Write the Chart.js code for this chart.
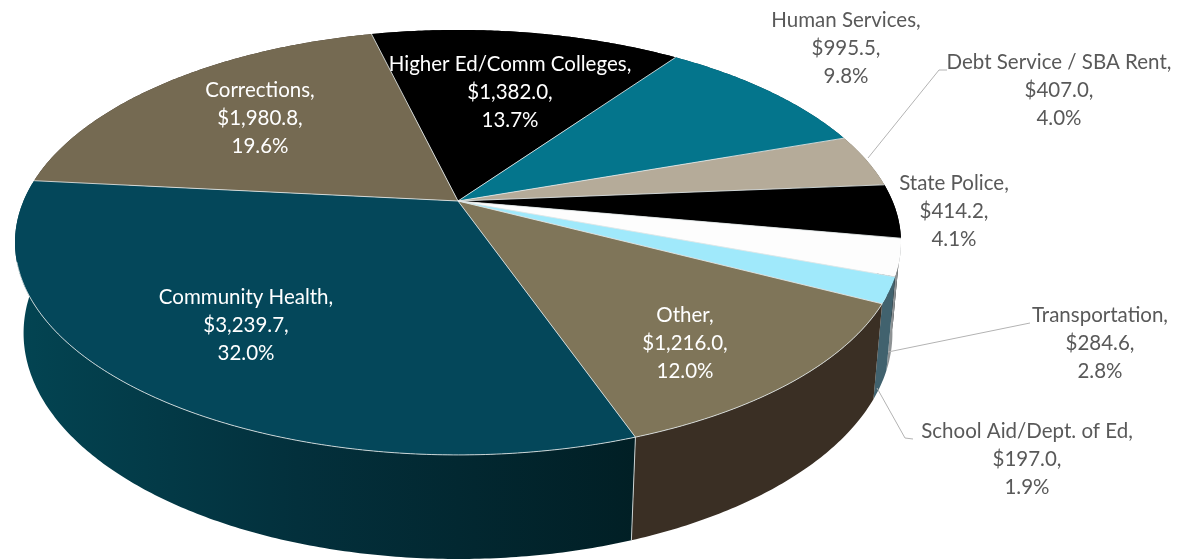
<!DOCTYPE html>
<html>
<head>
<meta charset="utf-8">
<title>Budget by department</title>
<style>
  html, body { margin: 0; padding: 0; background: #fff; }
  canvas { display: block; }
</style>
<script src="https://cdn.jsdelivr.net/npm/chart.js@4/dist/chart.umd.min.js"></script>
</head>
<body>
<canvas id="myChart" width="1178" height="559"></canvas>
<script>
// data, clockwise from the top
var categories = ["Higher Ed/Comm Colleges", "Human Services", "Debt Service / SBA Rent", "State Police",
                  "Transportation", "School Aid/Dept. of Ed", "Other", "Community Health", "Corrections"];
var amounts = [1382.0, 995.5, 407.0, 414.2, 284.6, 197.0, 1216.0, 3239.7, 1980.8];
var percents = [13.7, 9.8, 4.0, 4.1, 2.8, 1.9, 12.0, 32.0, 19.6];

var topColors = ["#000000", "#04758c", "#b5ab99", "#000000", "#fdfdfd", "#a0e9fb", "#7f7559", "#04475a", "#756a52"];
var wallColors = ["#000000", "#033f4c", "#6b6558", "#000000", "#8d9294", "#41626e", "#3a2f24", null, "#3a2f24"];

// where each label sits: centre x, y of first line, text colour
var labelSpots = [
  [510, 64, "#fff"], [846, 20, "#595959"], [1059, 62, "#595959"], [954, 183, "#595959"],
  [1100, 315, "#595959"], [1027, 431, "#595959"], [685, 315, "#fff"], [246, 297, "#fff"], [260, 90, "#fff"]
];
var leaders = [
  [[947, 70], [939, 70], [868, 158]],
  [[1030, 323], [888, 352]],
  [[913, 439], [905, 438], [877, 388]]
];

// perspective of the tilted disc. Pie centre lands at cx,cy
var cx = 458, cy = 201, A = 434.5, B = 204.4, P = 0.195, DROP = 90.6, Q = 0.019;
var RIM_TOP = 262; // rim line only shows below this y

function project(angle, lower) {
  var u = Math.cos(angle), v = Math.sin(angle);
  var w = 1 - P * v + (lower ? Q : 0);
  return [cx + A * u / w, cy + (B * v + (lower ? DROP : 0)) / w];
}

function arcPoints(arc, lower) {
  var pts = [];
  var n = Math.max(2, Math.ceil((arc.endAngle - arc.startAngle) / 0.01));
  for (var i = 0; i <= n; i++) {
    pts.push(project(arc.startAngle + (arc.endAngle - arc.startAngle) * i / n, lower));
  }
  return pts;
}

function tracePoly(ctx, pts) {
  pts.forEach(function (p, i) {
    if (i === 0) ctx.moveTo(p[0], p[1]); else ctx.lineTo(p[0], p[1]);
  });
}

var pie3d = {
  id: "pie3d",
  beforeDatasetsDraw: function (chart) {
    var ctx = chart.ctx;
    var arcs = chart.getDatasetMeta(0).data;
    ctx.save();

    // walls first, the top face covers whatever is behind it
    arcs.forEach(function (arc, i) {
      var fill = wallColors[i];
      if (!fill) {
        fill = ctx.createLinearGradient(20, 0, 635, 0);
        fill.addColorStop(0, "#034452");
        fill.addColorStop(0.45, "#03303c");
        fill.addColorStop(1, "#011f25");
      }
      ctx.beginPath();
      tracePoly(ctx, arcPoints(arc, false).concat(arcPoints(arc, true).reverse()));
      ctx.closePath();
      ctx.fillStyle = fill;
      ctx.fill();
    });

    // top face
    arcs.forEach(function (arc) {
      ctx.beginPath();
      tracePoly(ctx, [[cx, cy]].concat(arcPoints(arc, false)));
      ctx.closePath();
      ctx.fillStyle = arc.options.backgroundColor;
      ctx.fill();
    });

    // light seams between slices and along the front rim
    ctx.strokeStyle = "rgba(225,230,230,0.85)";
    ctx.lineWidth = 1;
    arcs.forEach(function (arc) {
      var p = project(arc.startAngle, false);
      ctx.beginPath();
      ctx.moveTo(cx, cy);
      ctx.lineTo(p[0], p[1]);
      ctx.stroke();
    });
    var other = arcs[6], health = arcs[7];
    [other, health].forEach(function (arc) {
      ctx.beginPath();
      tracePoly(ctx, arcPoints(arc, false).filter(function (p) { return p[1] > RIM_TOP; }));
      ctx.stroke();
    });
    ctx.beginPath();
    tracePoly(ctx, [project(health.startAngle, false), project(health.startAngle, true)]);
    ctx.stroke();

    // leader lines
    ctx.strokeStyle = "#b3b3b3";
    leaders.forEach(function (line) {
      ctx.beginPath();
      tracePoly(ctx, line);
      ctx.stroke();
    });

    // labels
    ctx.font = "20.5px Lato";
    ctx.textAlign = "center";
    ctx.textBaseline = "middle";
    categories.forEach(function (name, i) {
      var spot = labelSpots[i];
      var money = amounts[i].toLocaleString("en-US", { minimumFractionDigits: 1, maximumFractionDigits: 1 });
      ctx.fillStyle = spot[2];
      ctx.fillText(name + ",", spot[0], spot[1]);
      ctx.fillText("$" + money + ",", spot[0], spot[1] + 28);
      ctx.fillText(percents[i].toFixed(1) + "%", spot[0], spot[1] + 56);
    });

    ctx.restore();
    return false;
  }
};

var ctx = document.getElementById("myChart");
var myPie = new Chart(ctx, {
  type: "pie",
  data: {
    labels: categories,
    datasets: [{ data: amounts, backgroundColor: topColors, borderWidth: 0 }]
  },
  options: {
    responsive: false,
    animation: false,
    rotation: -13.7,
    plugins: { legend: { display: false }, tooltip: { enabled: false } }
  },
  plugins: [pie3d]
});
</script>
</body>
</html>
